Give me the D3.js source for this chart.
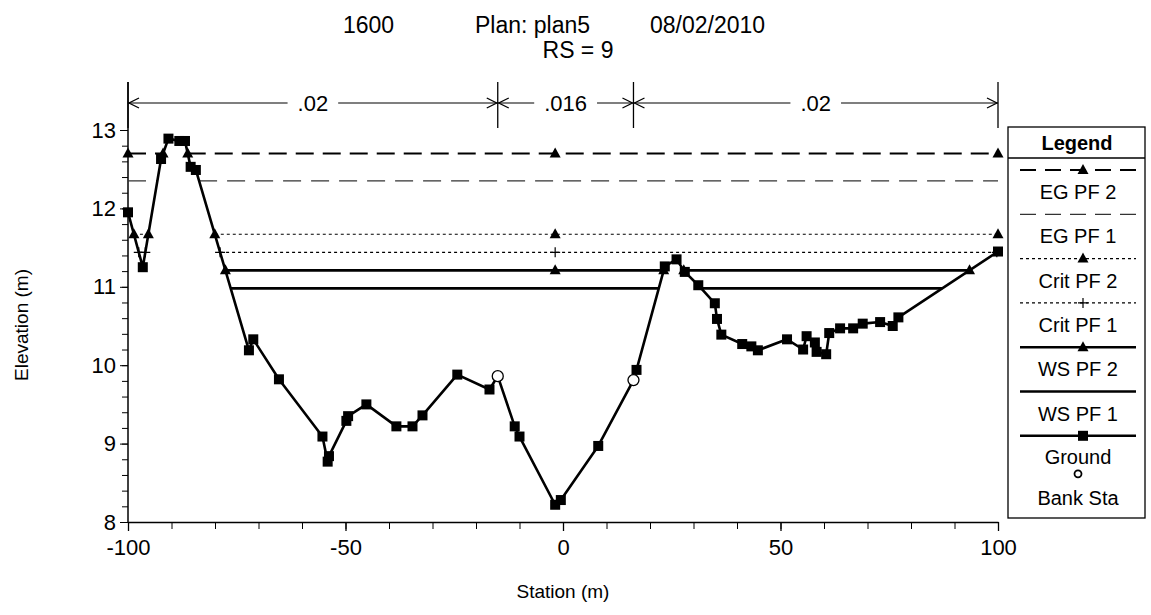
<!DOCTYPE html>
<html><head><meta charset="utf-8">
<script src="https://cdn.jsdelivr.net/npm/d3@7"></script>
<style>body{margin:0;background:#fff} text{font-family:"Liberation Sans",Arial,sans-serif;fill:#000}</style>
</head><body><svg id="c" width="1151" height="615"></svg>
<script>
// ---- data ----
const stations   = [-100,-96.6,-92.4,-90.7,-88.2,-86.9,-85.6,-84.4,-72.2,-71.2,-65.3,-55.3,-54.1,-53.8,-49.8,-49.4,-45.2,-38.3,-34.6,-32.3,-24.3,-16.9,-15.0,-11.1,-10.0,-1.8,-0.5,8.1,16.2,16.9,23.4,26.1,28.0,31.1,34.9,35.4,36.4,41.2,43.3,44.8,51.5,55.2,56.0,57.9,58.3,60.5,61.2,63.7,66.7,68.9,72.9,75.8,77.1,100];
const elevations = [11.95,11.25,12.63,12.89,12.86,12.86,12.53,12.49,10.19,10.33,9.82,9.09,8.77,8.84,9.29,9.35,9.50,9.22,9.22,9.36,9.88,9.69,9.86,9.22,9.09,8.22,8.28,8.97,9.81,9.94,11.26,11.35,11.19,11.02,10.79,10.59,10.39,10.27,10.24,10.19,10.33,10.20,10.37,10.29,10.17,10.14,10.41,10.47,10.47,10.53,10.55,10.50,10.61,11.45];
const bankStations = [-15.0, 16.2];
const profileNames  = ["EG PF 2","EG PF 1","Crit PF 2","Crit PF 1","WS PF 2","WS PF 1"];
const profileLevels = [12.70, 12.35, 11.67, 11.44, 11.21, 10.98];
const nBreaks = [-100, -15.0, 16.2, 100];
const nValues = [".02", ".016", ".02"];
const xTicks = [-100, -50, 0, 50, 100];
const yTicks = [8, 9, 10, 11, 12, 13];
const titleParts = ["1600", "Plan: plan5", "08/02/2010"];
const subTitle = "RS = 9";

// ---- styles (not data) ----
const styles = [
  {w:2,   c:"#000", dash:"18,9", marker:"tri"},
  {w:1.3, c:"#333", dash:"18,10", marker:null},
  {w:1.2, c:"#000", dash:"3,3",  marker:"tri"},
  {w:1.2, c:"#000", dash:"3,3",  marker:"plus"},
  {w:2.6, c:"#000", dash:null,   marker:"tri"},
  {w:2.6, c:"#000", dash:null,   marker:null}
];

const svg = d3.select("#c");
const x = d3.scaleLinear().domain([-100,100]).range([128,998]);
const y = d3.scaleLinear().domain([8,13]).range([522,130]);

// title
const tx = [343, 475, 650];
titleParts.forEach((t,i)=>svg.append("text").attr("x",tx[i]).attr("y",33).attr("font-size",23).text(t));
svg.append("text").attr("x",578).attr("y",58).attr("text-anchor","middle").attr("font-size",23).text(subTitle);

// axes
const xAxis = d3.axisBottom(x).tickValues(xTicks).tickSize(9).tickSizeOuter(0).tickFormat(d=>String(d));
const gx = svg.append("g").attr("transform","translate(0,522)").call(xAxis);
gx.selectAll(".tick line").attr("stroke-width",1.3);
gx.select(".domain").attr("stroke-width",1.5);
gx.selectAll("text").attr("font-size",22).attr("dy","0.95em").style("font-family","Liberation Sans, Arial");
const xMinor = d3.axisBottom(x).tickValues(d3.range(-100,101,10)).tickSize(7).tickFormat("");
const gxm = svg.append("g").attr("transform","translate(0,522)").call(xMinor);
gxm.select(".domain").remove();

const yAxis = d3.axisLeft(y).tickValues(yTicks).tickSize(8).tickSizeOuter(0).tickFormat(d=>String(d));
const gy = svg.append("g").attr("transform","translate(128,0)").call(yAxis);
gy.select(".domain").remove();
gy.selectAll("text").attr("font-size",22).attr("dx","-0.05em").style("font-family","Liberation Sans, Arial");
const yMinor = d3.axisLeft(y).tickValues(d3.range(8,13.01,0.2)).tickSize(6).tickFormat("");
const gym = svg.append("g").attr("transform","translate(128,0)").call(yMinor);
gym.select(".domain").remove();
svg.append("line").attr("x1",128).attr("x2",128).attr("y1",82).attr("y2",522).attr("stroke","#000").attr("stroke-width",1.5);

svg.append("text").attr("x",563).attr("y",598).attr("text-anchor","middle").attr("font-size",19).text("Station (m)");
svg.append("text").attr("transform","translate(28,325) rotate(-90)").attr("text-anchor","middle").attr("font-size",19).text("Elevation (m)");

// n-values bar
const ny = 103;
nBreaks.forEach(b=>svg.append("line").attr("x1",x(b)).attr("x2",x(b)).attr("y1",82).attr("y2",128).attr("stroke","#000").attr("stroke-width",1.3));
for(let i=0;i<nValues.length;i++){
  const a=x(nBreaks[i]), b=x(nBreaks[i+1]), m=(a+b)/2;
  const t = svg.append("text").attr("x",m).attr("y",ny+8).attr("text-anchor","middle").attr("font-size",22).text(nValues[i]);
  const bw = t.node().getComputedTextLength()/2 + 10;
  svg.append("line").attr("x1",a).attr("x2",m-bw).attr("y1",ny).attr("y2",ny).attr("stroke","#000").attr("stroke-width",1.2);
  svg.append("line").attr("x1",m+bw).attr("x2",b).attr("y1",ny).attr("y2",ny).attr("stroke","#000").attr("stroke-width",1.2);
  svg.append("path").attr("d",`M${a+11},${ny-5}L${a+1},${ny}L${a+11},${ny+5}`).attr("fill","none").attr("stroke","#000").attr("stroke-width",1.3);
  svg.append("path").attr("d",`M${b-11},${ny-5}L${b-1},${ny}L${b-11},${ny+5}`).attr("fill","none").attr("stroke","#000").attr("stroke-width",1.3);
}

// wet segments of a level over the ground profile
function wetSegments(level){
  const segs=[]; let start = elevations[0]<level ? stations[0] : null;
  for(let i=0;i<stations.length-1;i++){
    const x0=stations[i],y0=elevations[i],x1=stations[i+1],y1=elevations[i+1];
    const w0=y0<level,w1=y1<level;
    if(w0!==w1){
      const xc=x0+(level-y0)/(y1-y0)*(x1-x0);
      if(w1) start=xc; else {segs.push([start,xc]); start=null;}
    }
  }
  if(start!==null) segs.push([start,stations[stations.length-1]]);
  return segs;
}
const thalweg = stations[d3.minIndex(elevations)];

function drawMarker(g,type,px,py){
  if(type==="tri") g.append("path").attr("d",`M${px},${py-6}L${px+5.5},${py+4}L${px-5.5},${py+4}Z`).attr("fill","#000");
  else if(type==="plus") g.append("path").attr("d",`M${px-5},${py}H${px+5}M${px},${py-5}V${py+5}`).attr("stroke","#000").attr("stroke-width",1.2);
  else if(type==="sq") g.append("rect").attr("x",px-5).attr("y",py-5).attr("width",10).attr("height",10).attr("fill","#000");
}

const gWater = svg.append("g");
const gMark = svg.append("g");
profileLevels.forEach((lv,i)=>{
  const st=styles[i];
  const segs=wetSegments(lv);
  segs.forEach(s=>{
    const l=gWater.append("line").attr("x1",x(s[0])).attr("x2",x(s[1])).attr("y1",y(lv)).attr("y2",y(lv))
      .attr("stroke",st.c).attr("stroke-width",st.w);
    if(st.dash) l.attr("stroke-dasharray",st.dash);
    if(st.marker){
      drawMarker(gMark,st.marker,x(s[0]),y(lv));
      drawMarker(gMark,st.marker,x(s[1]),y(lv));
      if(thalweg>s[0]&&thalweg<s[1]) drawMarker(gMark,st.marker,x(thalweg),y(lv));
    }
  });
});

// ground
const pts = stations.map((s,i)=>[s,elevations[i]]);
svg.append("path").attr("d",d3.line().x(d=>x(d[0])).y(d=>y(d[1]))(pts)).attr("fill","none").attr("stroke","#000").attr("stroke-width",2.6).attr("stroke-linejoin","round");
pts.forEach(p=>{ if(!bankStations.includes(p[0])) drawMarker(svg,"sq",x(p[0]),y(p[1])); });
bankStations.forEach(b=>{
  const i=stations.indexOf(b);
  svg.append("circle").attr("cx",x(b)).attr("cy",y(elevations[i])).attr("r",5.5).attr("fill","#fff").attr("stroke","#000").attr("stroke-width",1.3);
});
svg.node().appendChild(gMark.node());

// legend
const L = svg.append("g");
L.append("rect").attr("x",1008).attr("y",127).attr("width",137).attr("height",391).attr("fill","none").attr("stroke","#000").attr("stroke-width",1.3);
L.append("text").attr("x",1077).attr("y",150).attr("text-anchor","middle").attr("font-size",20).attr("font-weight","bold").text("Legend");
L.append("line").attr("x1",1008).attr("x2",1145).attr("y1",158).attr("y2",158).attr("stroke","#000").attr("stroke-width",1.3);
profileNames.forEach((n,i)=>{
  const ly = 170 + i*44.3, st=styles[i];
  const l=L.append("line").attr("x1",1020).attr("x2",1136).attr("y1",ly).attr("y2",ly).attr("stroke",st.c).attr("stroke-width",st.w);
  if(st.dash) l.attr("stroke-dasharray", st.dash==="3,3"?"3,3":"16,9");
  if(st.marker) drawMarker(L,st.marker,1083,ly);
  L.append("text").attr("x",1078).attr("y",ly+29).attr("text-anchor","middle").attr("font-size",20).text(n);
});
const gly = 170 + 6*44.3;
L.append("line").attr("x1",1020).attr("x2",1136).attr("y1",gly).attr("y2",gly).attr("stroke","#000").attr("stroke-width",2.6);
drawMarker(L,"sq",1083,gly);
L.append("text").attr("x",1078).attr("y",gly+28).attr("text-anchor","middle").attr("font-size",20).text("Ground");
L.append("circle").attr("cx",1078).attr("cy",gly+38).attr("r",3.5).attr("fill","#fff").attr("stroke","#000").attr("stroke-width",1.8);
L.append("text").attr("x",1078).attr("y",gly+69).attr("text-anchor","middle").attr("font-size",20).text("Bank Sta");
</script></body></html>
